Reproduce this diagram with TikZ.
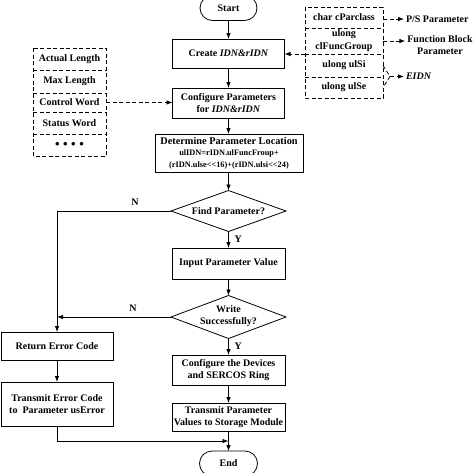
\documentclass[tikz,border=0pt]{standalone}
\usepackage{fontspec}
\setmainfont{Liberation Serif}
\usetikzlibrary{shapes.geometric,shapes.misc,arrows.meta}
\begin{document}
\begin{tikzpicture}[x=1pt,y=-1pt,
  every node/.style={font=\bfseries\fontsize{10}{12}\selectfont, inner sep=0pt, outer sep=0pt},
  ln/.style={line width=0.8pt, black},
  box/.style={draw, ln, rectangle, align=center},
  term/.style={draw, ln, rounded rectangle, minimum width=57pt, minimum height=25pt},
  dec/.style={draw, ln, diamond, minimum width=115pt, minimum height=41pt},
  arr/.style={ln, -{Latex[length=6pt,width=4.5pt]}},
  dsh/.style={ln, dash pattern=on 4pt off 2.5pt},
  cell/.style={rectangle, align=center, minimum width=73pt},
  rcell/.style={rectangle, align=center, minimum width=78pt},
  lbl/.style={inner sep=2pt, align=center}
]
\useasboundingbox (0,0) rectangle (474,472);
\clip (0,0) rectangle (474,472);

% main column
\node[term] (start) at (228.5,8) {\raisebox{-2pt}{Start}};
\node[box, minimum width=112pt, minimum height=29pt] (create) at (228.5,53.5) {Create \textit{IDN\&rIDN}};
\node[box, minimum width=112pt, minimum height=30pt] (config) at (228.5,103) {Configure Parameters\\for \textit{IDN\&rIDN}};
\node[box, minimum width=148pt, minimum height=38pt, font=\bfseries\fontsize{10.3}{12}\selectfont] (determ) at (229,153) {\raisebox{-1pt}{Determine Parameter Location}\\{\fontsize{8.3}{9}\selectfont ulIDN=rIDN.ulFuncFroup+}\\{\fontsize{8.3}{9}\selectfont (rIDN.ulse{\textless}{\textless}16)+(rIDN.ulsi{\textless}{\textless}24)}};
\node[dec] (find) at (228.5,211) {};
\node at (find) {Find Parameter?};
\node[box, minimum width=113pt, minimum height=31pt] (input) at (228.5,263.5) {Input Parameter Value};
\node[dec, minimum height=43pt] (write) at (228.5,317) {};
\node[align=center] at (228.5,316) {Write\\Successfully?};
\node[box, minimum width=113pt, minimum height=30pt] (devices) at (228.5,370) {Configure the Devices\\and SERCOS Ring};
\node[box, minimum width=113pt, minimum height=28pt] (transP) at (228.5,417) {Transmit Parameter\\Values to Storage Module};
\node[term, minimum width=58pt] (end) at (228.5,463.5) {\raisebox{1pt}{End}};

% left column
\node[box, minimum width=112pt, minimum height=28pt] (retErr) at (57,346) {Return Error Code};
\node[box, minimum width=112pt, minimum height=44pt] (transErr) at (57,404) {Transmit Error Code\\to\ \ Parameter usError};

% main connectors
\draw[arr] (start) -- (create);
\draw[arr] (create) -- (config);
\draw[arr] (config) -- (determ.north -| config.south);
\draw[arr] (determ.south -| find.north) -- (find);
\draw[arr] (find) -- (input) node[pos=0.45, right=6pt] (y1) {Y};
\draw[arr] (input) -- (write);
\draw[arr] (write) -- (devices) node[pos=0.45, right=6pt] (y2) {Y};
\draw[arr] (devices) -- (transP);
\draw[arr] (transP) -- (end);

\draw[arr] (find.west) -- (find.west -| retErr.north) -- (retErr.north);
\node (n1) at (135,202) {N};
\draw[arr] (write.west) -- (write.west -| retErr.north);
\node (n2) at (133,308) {N};
\draw[arr] (retErr) -- (transErr);
\coordinate (join) at (228.5,441);
\draw[arr] (transErr.south) |- (join);

% left dashed stack
\node[cell, minimum height=22pt] (ls1) at (69.5,59) {Actual Length};
\node[cell, minimum height=23pt] (ls2) at (69.5,81.5) {Max Length};
\node[cell, minimum height=19pt] (ls3) at (69.5,102.5) {Control Word};
\node[cell, minimum height=22pt] (ls4) at (69.5,123) {Status Word};
\node[cell, minimum height=22pt] (ls5) at (69.5,145) {{\fontsize{13}{13}\selectfont •\hspace{3.5pt}•\hspace{3.5pt}•\hspace{3.5pt}•}};
\draw[dsh] (ls1.north west) rectangle (ls5.south east);
\draw[dsh] (ls1.south west) -- (ls1.south east);
\draw[dsh] (ls2.south west) -- (ls2.south east);
\draw[dsh] (ls3.south west) -- (ls3.south east);
\draw[dsh] (ls4.south west) -- (ls4.south east);
\draw[dsh, arr] (ls3.east) -- (ls3.east -| config.west);

% right dashed stack
\node[rcell, minimum height=21pt] (rs1) at (344,17.5) {char cParclass};
\node[rcell, minimum height=26pt, font=\bfseries\fontsize{10}{13}\selectfont] (rs2) at (344,41) {ulong\\clFuncGroup};
\node[rcell, minimum height=23pt] (rs3) at (344,65.5) {ulong ulSi};
\node[rcell, minimum height=21pt] (rs4) at (344,87.5) {ulong ulSe};
\draw[dsh] (rs1.north west) rectangle (rs4.south east);
\draw[dsh] (rs1.south west) -- (rs1.south east);
\draw[dsh] (rs2.south west) -- (rs2.south east);
\draw[dsh] (rs3.south west) -- (rs3.south east);
\draw[dsh, arr] (rs2.south west) -- (rs2.south west -| create.east);

\node[lbl, anchor=west] (ps) at (404,19) {P/S Parameter};
\node[lbl] (fb) at (440,45) {Function Block\\Parameter};
\node[lbl, anchor=west] (eidn) at (404,76.5) {\textit{EIDN}};
\draw[dsh, arr] (rs1.east |- ps.west) -- (ps.west);
\draw[dsh, arr] (rs2.east) -- (rs2.east -| fb.west);
\coordinate (ej) at (390,76.5);
\draw[dsh] (rs3.east) -- (ej) -- (rs4.east);
\draw[dsh, arr] (ej) -- (eidn.west);
\end{tikzpicture}
\end{document}
